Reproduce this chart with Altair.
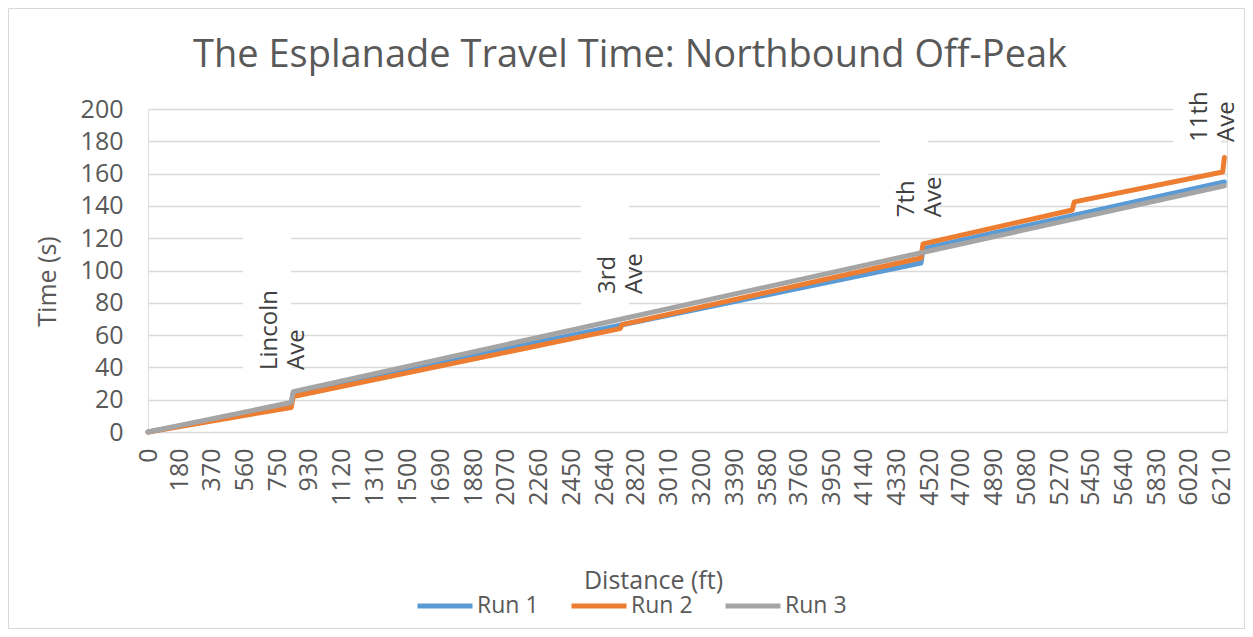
import altair as alt
import pandas as pd

# ---- data ----
run_names = ["Run 1", "Run 2", "Run 3"]
run1_ft = [0, 828, 840, 4470, 4482, 6225]
run1_s = [0, 17.0, 24.3, 104.6, 113.5, 154.8]
run2_ft = [0, 828, 840, 2730, 2742, 4470, 4482, 5345, 5357, 6215, 6225]
run2_s = [0, 15.2, 22.0, 64.0, 66.5, 107.7, 116.5, 137.5, 142.5, 161.0, 170.0]
run3_ft = [0, 828, 840, 6225]
run3_s = [0, 18.3, 25.0, 152.5]

station_names = ["Lincoln\nAve", "3rd\nAve", "7th\nAve", "11th\nAve"]
station_ft = [706, 2660, 4390, 6085]
station_label_s = [38.4, 85.5, 133.0, 179.6]

x_tick_labels = [0, 180, 370, 560, 750, 930, 1120, 1310, 1500, 1690, 1880, 2070,
                 2260, 2450, 2640, 2820, 3010, 3200, 3390, 3580, 3760, 3950, 4140,
                 4330, 4520, 4700, 4890, 5080, 5270, 5450, 5640, 5830, 6020, 6210]
y_ticks = [0, 20, 40, 60, 80, 100, 120, 140, 160, 180, 200]

title_text = "The Esplanade Travel Time: Northbound Off-Peak"

colors = ["#5B9BD5", "#ED7D31", "#A5A5A5"]

FONT = "Open Sans"
TXT = "#595959"
GRID = "#D9D9D9"

W, H = 1079, 323
X_MAX = 6240
PX_PER_S = H / 200.0

rows = []
for name, xs, ys in [("Run 1", run1_ft, run1_s), ("Run 2", run2_ft, run2_s), ("Run 3", run3_ft, run3_s)]:
    for i, (x, y) in enumerate(zip(xs, ys)):
        rows.append({"run": name, "dist": x, "time": y, "i": i})
df = pd.DataFrame(rows)

ann = pd.DataFrame({"label": station_names, "dist": station_ft, "time": station_label_s})
# white label boxes (Excel data-label backgrounds that break the gridlines)
ann["box_top"] = [
    t + (60 + 11.5 * max(len(p) for p in lab.split("\n"))) / PX_PER_S
    for lab, t in zip(station_names, station_label_s)
]

xscale = alt.Scale(domain=[0, X_MAX], nice=False, zero=False)
yscale = alt.Scale(domain=[0, 200], nice=False)

base = alt.Chart(df)

lines = base.mark_line(strokeWidth=5, strokeJoin="round", strokeCap="round").encode(
    x=alt.X("dist:Q", scale=xscale,
            axis=alt.Axis(values=x_tick_labels, tickCount=200, format="d", labelAngle=270,
                          labelFontSize=25, labelColor=TXT, labelFont=FONT,
                          labelPadding=16, labelOverlap=False, labelFlush=False,
                          labelBound=False, labelSeparation=0,
                          ticks=False, tickSize=0, grid=False, domain=False,
                          title="Distance (ft)", titleFont=FONT, titleFontSize=25,
                          titleColor=TXT, titleFontWeight="normal",
                          titleX=505, titleY=148, titleAlign="center",
                          titleBaseline="middle")),
    y=alt.Y("time:Q", scale=yscale,
            axis=alt.Axis(values=y_ticks, tickCount=100, format="d", grid=True,
                          gridColor=GRID, gridWidth=1.5, domain=False, ticks=False,
                          tickSize=0, labelOverlap=False, labelSeparation=0,
                          labelFontSize=25, labelColor=TXT, labelFont=FONT,
                          labelPadding=25,
                          title="Time (s)", titleFont=FONT, titleFontSize=25,
                          titleColor=TXT, titleFontWeight="normal",
                          titleX=-101, titleY=172, titleAngle=270,
                          titleAlign="center", titleBaseline="middle")),
    color=alt.Color("run:N", scale=alt.Scale(domain=run_names, range=colors),
                    legend=alt.Legend(orient="none", legendX=267, legendY=467,
                                      direction="horizontal", title=None,
                                      symbolType="stroke", symbolSize=3025,
                                      symbolStrokeWidth=5, labelFontSize=23,
                                      labelFont=FONT, labelColor=TXT,
                                      labelOffset=2, columnPadding=22)),
    order="i:Q",
    detail="run:N",
)

boxes = alt.Chart(ann).mark_rect(color="white", xOffset=-27, x2Offset=21, yOffset=12).encode(
    x=alt.X("dist:Q", scale=xscale),
    x2="dist:Q",
    y=alt.Y("time:Q", scale=yscale),
    y2="box_top:Q",
)

labels = alt.Chart(ann).mark_text(
    angle=270, align="left", baseline="middle", lineBreak="\n", lineHeight=27,
    fontSize=24, font=FONT, color="#404040"
).encode(
    x=alt.X("dist:Q", scale=xscale),
    y=alt.Y("time:Q", scale=yscale),
    text="label:N",
)

frame = alt.Chart(pd.DataFrame({"a": [0]})).mark_rect(
    fillOpacity=0, stroke=GRID, strokeWidth=1
).encode(
    x=alt.value(-139.5), x2=alt.value(1096.5), y=alt.value(-100.5), y2=alt.value(519.5)
)

title = alt.Chart(pd.DataFrame({"t": [title_text]})).mark_text(
    font=FONT, fontSize=38, color=TXT, align="center", baseline="alphabetic"
).encode(
    x=alt.value(482), y=alt.value(-42), text="t:N"
)

chart = alt.layer(frame, boxes, lines, labels, title).properties(
    width=W, height=H,
    autosize=alt.AutoSizeParams(type="none"),
    padding={"left": 140, "top": 101, "right": 18, "bottom": 197},
).configure_view(stroke=None).configure(background="white").configure_axis(
    labelOverlap=False
)

chart.save("out.html", embed_options={"renderer": "svg", "actions": False})
